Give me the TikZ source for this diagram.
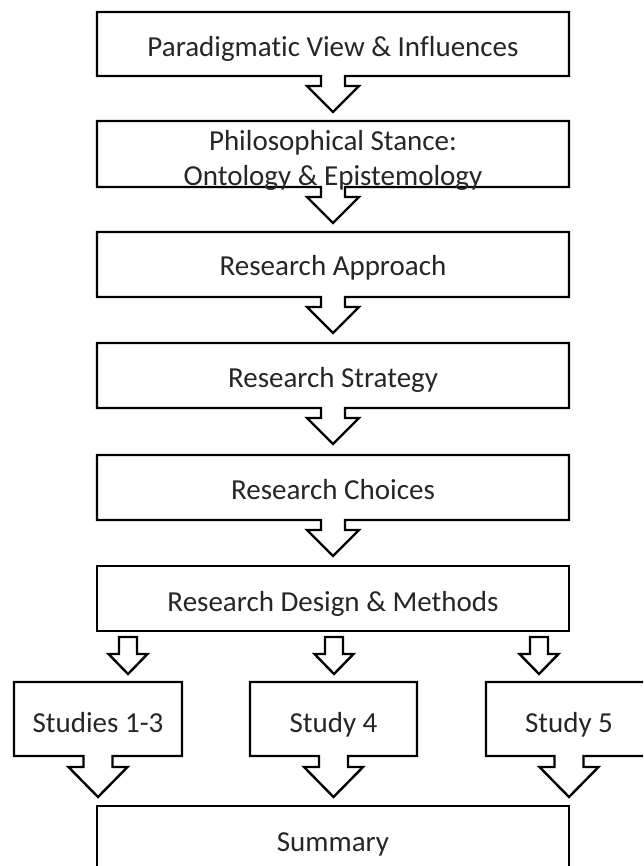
\documentclass[tikz,border=0pt]{standalone}
\usepackage{fontspec}
\setmainfont{Carlito}[Ligatures=NoCommon]

% one canvas unit = 1pt, y grows downwards
\tikzset{
  x=1pt, y=-1pt,
  frame/.style={rectangle, inner sep=0pt, outer sep=0pt},
  outline/.style={draw=black, line width=2.4pt, line join=miter, fill=white},
  caption/.style={font=\fontsize{29}{35}\selectfont, text=black!85, anchor=base, inner sep=0pt},
}

% box outline with a block arrow leaving the middle of its bottom side
% #1 node, #2 shaft half width, #3 head half width, #4 shaft length, #5 head length
\newcommand\calloutoutline[5]{%
  \draw[outline] (#1.north west) -- (#1.north east) -- (#1.south east)
    -- ([xshift=#2]#1.south) -- ++(0,#4) -- ++({#3-#2},0)
    -- ([yshift={-(#4+#5)}]#1.south) -- ++({-#3},{-#5}) -- ++({#3-#2},0)
    -- ++(0,{-#4}) -- (#1.south west) -- cycle;
}

% free block arrow pointing down from coordinate #1
\newcommand\blockarrow[1]{%
  \draw[outline] ([xshift=-9]#1) -- ([xshift=9]#1) -- ++(0,17) -- ++(10.5,0)
    -- ([yshift=-37]#1) -- ++(-19.5,-20) -- ++(10.5,0) -- cycle;
}

\begin{document}
\begin{tikzpicture}
\useasboundingbox (0,0) rectangle (643,866);
\clip (0,0) rectangle (643,866);

% main chain of boxes
\node[frame, minimum width=472, minimum height=64] (b1) at (333,44) {};
\node[frame, minimum width=472, minimum height=66] (b2) at (333,154) {};
\node[frame, minimum width=472, minimum height=65] (b3) at (333,264.5) {};
\node[frame, minimum width=472, minimum height=65] (b4) at (333,375.5) {};
\node[frame, minimum width=472, minimum height=65] (b5) at (333,487.5) {};
\node[frame, minimum width=472, minimum height=65] (b6) at (333,598.5) {};

% studies and summary
\node[frame, minimum width=168, minimum height=74] (s1) at (98,719) {};
\node[frame, minimum width=167, minimum height=74] (s2) at (333.5,719) {};
\node[frame, minimum width=166, minimum height=74] (s3) at (569,719) {};
\node[frame, minimum width=472, minimum height=66] (sum) at (333,839) {};

\foreach \n in {b1,b2,b3,b4,b5}{\calloutoutline{\n}{12}{26}{10}{26}}
\draw[outline] (b6.north west) rectangle (b6.south east);
\foreach \n in {s1,s2,s3}{\calloutoutline{\n}{14.5}{29.5}{11}{30}}
\draw[outline] (sum.north west) rectangle (sum.south east);

% arrows from the design box to the studies
\coordinate (a1) at (128,637);
\coordinate (a2) at (334,637);
\coordinate (a3) at (539,637);
\foreach \a in {a1,a2,a3}{\blockarrow{\a}}

% labels
\node[caption] (t1) at ([yshift=-45]b1.north) {Paradigmatic View \& Influences};
\node[caption] (t2a) at ([yshift=-30]b2.north) {Philosophical Stance:};
\node[caption] (t2b) at ([yshift=-65]b2.north) {Ontology \& Epistemology};
\node[caption] (t3) at ([yshift=-44]b3.north) {Research Approach};
\node[caption] (t4) at ([yshift=-44]b4.north) {Research Strategy};
\node[caption] (t5) at ([yshift=-44]b5.north) {Research Choices};
\node[caption] (t6) at ([yshift=-45]b6.north) {Research Design \& Methods};
\node[caption] (ts1) at ([yshift=-50]s1.north) {Studies 1-3};
\node[caption] (ts2) at ([yshift=-50]s2.north) {Study 4};
\node[caption] (ts3) at ([yshift=-50]s3.north) {Study 5};
\node[caption] (tsum) at ([yshift=-45]sum.north) {Summary};
\end{tikzpicture}
\end{document}
